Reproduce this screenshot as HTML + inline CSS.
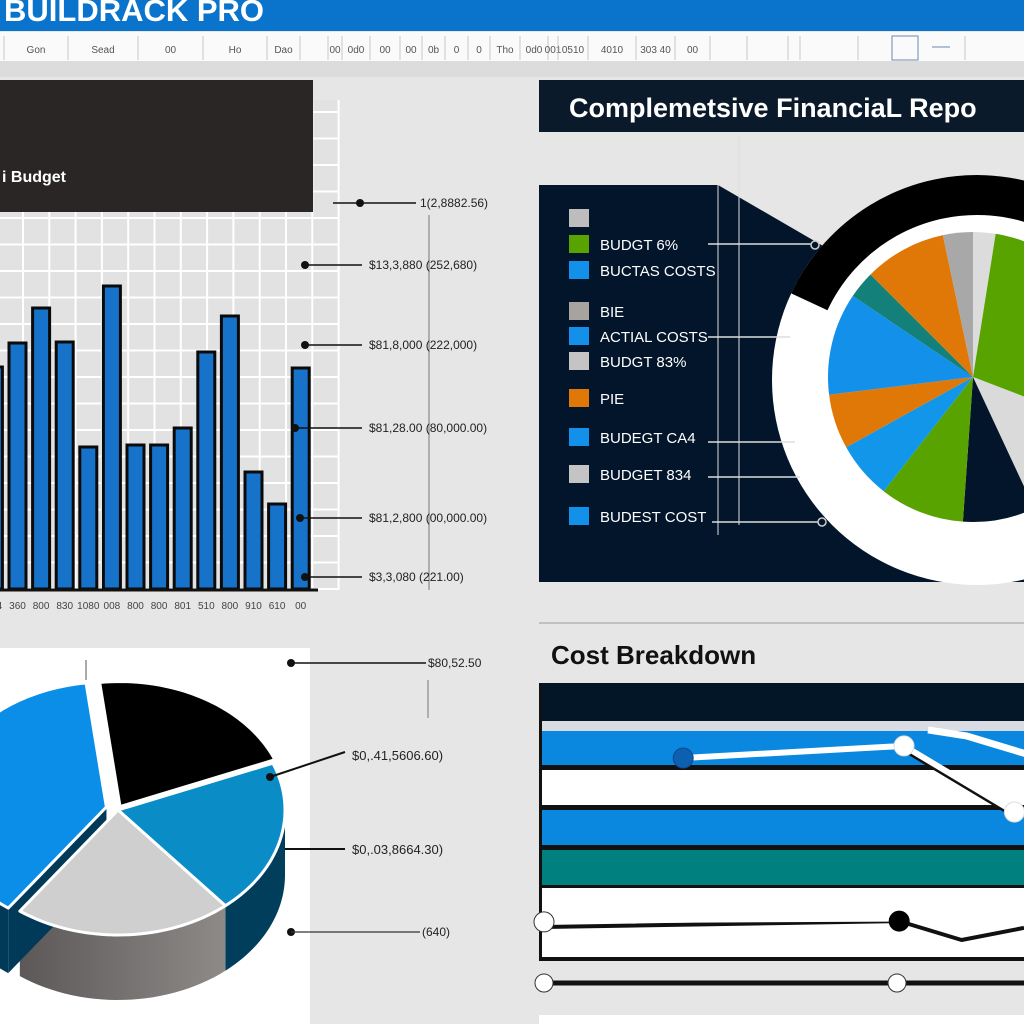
<!DOCTYPE html>
<html><head><meta charset="utf-8"><style>
html,body{margin:0;padding:0;background:#e6e6e6;}
svg{display:block;font-family:"Liberation Sans",sans-serif;}
</style></head><body>
<svg id="root" width="1024" height="1024" viewBox="0 0 1024 1024" xmlns="http://www.w3.org/2000/svg">
<rect x="0" y="0" width="1024" height="1024" fill="#e6e6e6"/>
<g>
<rect x="0" y="0" width="1024" height="31" fill="#0a74cc"/>
<text x="4" y="21" font-size="31" font-weight="bold" fill="#fff">BUILDRACK PRO</text>
</g>
<g id="toolbar">
<rect x="0" y="32" width="1024" height="29" fill="#fafafa"/>
<rect x="0" y="61" width="1024" height="16" fill="#dcdcdc"/>
</g>

<g id="barchart">
<rect x="0" y="100" width="338" height="490" fill="#e2e2e2"/>
<g id="grid"></g>
<rect x="0" y="80" width="313" height="132" fill="#2a2626"/>
<text x="2" y="182" font-size="16" font-weight="bold" fill="#fff">i Budget</text>
<g id="bars"></g>
<line x1="0" y1="590" x2="318" y2="590" stroke="#111" stroke-width="3"/>
<g id="xlabels"></g>
<line x1="429" y1="215" x2="429" y2="590" stroke="#777" stroke-width="1"/>
<g id="callouts"></g>
</g>

<g>
<rect x="539" y="80" width="485" height="52" fill="#0b1a2a"/>
<text x="569" y="117" font-size="27" font-weight="bold" fill="#fff">Complemetsive FinanciaL  Repo</text>
<polygon points="539,185 718,185 830,250 1024,250 1024,582 539,582" fill="#03152a"/>
<line x1="739" y1="135" x2="739" y2="525" stroke="#ddd" stroke-width="1"/>
<line x1="718" y1="185" x2="718" y2="535" stroke="#ddd" stroke-width="1"/>
<circle cx="977" cy="380" r="205" fill="#fff"/>
<path id="blackring" fill="#000"/>
<g id="pieslices"></g>
<g id="legend"></g>
</g>

<g>
<rect x="0" y="648" width="310" height="376" fill="#fff"/>
<line x1="86" y1="660" x2="86" y2="680" stroke="#555" stroke-width="1"/>
<defs><linearGradient id="gside" x1="0" x2="1" y1="0" y2="0"><stop offset="0" stop-color="#5c5858"/><stop offset="1" stop-color="#8e8a88"/></linearGradient></defs>
<g id="pie3d"></g>
<g>
<circle cx="291" cy="663" r="4" fill="#111"/><line x1="291" y1="663" x2="426" y2="663" stroke="#111" stroke-width="1.5"/>
<text x="428" y="667" font-size="12" fill="#222">$80,52.50</text>
<line x1="428" y1="680" x2="428" y2="718" stroke="#777" stroke-width="1"/>
<circle cx="270" cy="777" r="4" fill="#111"/><line x1="270" y1="777" x2="345" y2="752" stroke="#111" stroke-width="2"/>
<text x="352" y="760" font-size="13" fill="#222">$0,.41,5606.60)</text>
<line x1="285" y1="849" x2="345" y2="849" stroke="#111" stroke-width="2"/>
<text x="352" y="854" font-size="13" fill="#222">$0,.03,8664.30)</text>
<circle cx="291" cy="932" r="4" fill="#111"/><line x1="291" y1="932" x2="420" y2="932" stroke="#333" stroke-width="1.2"/>
<text x="422" y="936" font-size="12" fill="#222">(640)</text>
</g>
</g>

<g>
<line x1="539" y1="623" x2="1024" y2="623" stroke="#999" stroke-width="1"/>
<text x="551" y="664" font-size="26" font-weight="bold" fill="#111">Cost Breakdown</text>
<rect x="539" y="683" width="485" height="278" fill="#fff"/>
<rect x="539" y="683" width="485" height="38" fill="#031628"/>
<rect x="542" y="721" width="482" height="10" fill="#d9dde3"/>
<rect x="542" y="731" width="482" height="35" fill="#0a88e0"/>
<rect x="542" y="765" width="482" height="5" fill="#111"/>
<rect x="542" y="805" width="482" height="5" fill="#111"/>
<rect x="542" y="810" width="482" height="35" fill="#0a88e0"/>
<rect x="542" y="845" width="482" height="5" fill="#111"/>
<rect x="542" y="850" width="482" height="35" fill="#00807e"/>
<rect x="542" y="885" width="482" height="3" fill="#111"/>
<rect x="539" y="957" width="485" height="4" fill="#111"/>
<rect x="539" y="683" width="3" height="278" fill="#111"/>
<g id="lines"></g>
<line x1="544" y1="983" x2="1024" y2="983" stroke="#111" stroke-width="5"/>
<circle cx="544" cy="983" r="9" fill="#fff" stroke="#333" stroke-width="1"/>
<circle cx="897" cy="983" r="9" fill="#fff" stroke="#333" stroke-width="1"/>
<rect x="539" y="1015" width="485" height="9" fill="#fff"/>
</g>
</svg>
<script>
const NS="http://www.w3.org/2000/svg";
function mk(tag,attrs,parent){const e=document.createElementNS(NS,tag);for(const k in attrs)e.setAttribute(k,attrs[k]);parent.appendChild(e);return e;}

const toolbarLabels=["Gon","Sead","00","Ho","Dao","","00","0d0","00","00","0b","0","0","Tho","0d0","001","0510","4010","303 40","00","",""];
const toolbarDividers=[4,68,138,203,267,300,328,342,370,400,422,445,468,490,520,548,558,588,636,675,710,747,788,800,858,892,918,965];
{
 const g=document.getElementById('toolbar');
 toolbarDividers.forEach((x,i)=>{
  const l=mk('line',{x1:x,y1:36,x2:x,y2:60,stroke:'#c8c8c8','stroke-width':1},g);
  
  
  if(i<toolbarDividers.length-1&&toolbarLabels[i]){
   const t=mk('text',{x:(x+toolbarDividers[i+1])/2,y:53,'font-size':10,fill:'#555','text-anchor':'middle'},g);
   t.textContent=toolbarLabels[i];
   
   
  }
 });
 const m=mk('rect',{x:892,y:36,width:26,height:24,fill:'none',stroke:'#6a8ab0'},g);
 
 
 mk('line',{x1:932,y1:47,x2:950,y2:47,stroke:'#6a8ab0'},g);
}

const barCategories=["504","360","800","830","1080","008","800","800","801","510","800","910","610","00"];
const barValues=[222,246,281,247,142,303,144,144,161,237,273,117,85,221];
const calloutLabels=["1(2,8882.56)","$13,3,880 (252,680)","$81,8,000 (222,000)","$81,28.00 (80,000.00)","$81,2,800 (00,000.00)","$3,3,080 (221.00)"];
const calloutValues=[386,324,244,161,71,12];
const yScale=v=>589-v;
const xScale=i=>-14.6+i*23.6;
{
 const g=document.getElementById('grid');
 for(let x=23;x<340;x+=26.3){const l=mk('line',{x1:x,y1:100,x2:x,y2:590,stroke:'#fff','stroke-width':2},g);}
 for(let y=112;y<590;y+=26.5){const l=mk('line',{x1:0,y1:y,x2:338,y2:y,stroke:'#fff','stroke-width':2},g);}
 const bg=document.getElementById('bars');
 barValues.forEach((v,i)=>{
  const r=mk('rect',{x:xScale(i),y:yScale(v),width:17,height:v,fill:'#1673c9',stroke:'#0a0a0a','stroke-width':3},bg);
  
  
 });
 const xl=document.getElementById('xlabels');
 barCategories.forEach((c,i)=>{
  const t=mk('text',{x:xScale(i)+8.5,y:609,'font-size':10,fill:'#444','text-anchor':'middle'},xl);
  t.textContent=c;
  
  
 });
 const cg=document.getElementById('callouts');
 const dotX=[333,305,305,295,300,305];
 calloutValues.forEach((v,i)=>{
  const y=yScale(v);
  mk('line',{x1:dotX[i],y1:y,x2:i==0?416:362,y2:y,stroke:'#111','stroke-width':1.5},cg);
  const c=mk('circle',{cx:dotX[i]+(i==0?27:0),cy:y,r:4,fill:'#111'},cg);
  
  
  const t=mk('text',{x:i==0?420:369,y:y+4,'font-size':12,fill:'#222'},cg);
  t.textContent=calloutLabels[i];
  
  
 });
}

const pieLabels=["light","green","light-2","navy","green-2","blue","orange","blue-2","teal","orange-2","gray"];
const pieValues=[9,102,44,29,34,23,22,41,11,33,12];
const pieColors=["#dcdcdc","#58a300","#dadada","#03152a","#58a300","#1296ea","#e07808","#1290ea","#13807a","#e07808","#a8a8a8"];
function arcPath(cx,cy,r,a0,a1){const p=a=>[cx+r*Math.cos(a*Math.PI/180),cy+r*Math.sin(a*Math.PI/180)];const s=p(a0),e=p(a1);return `M${cx},${cy}L${s[0]},${s[1]}A${r},${r} 0 ${a1-a0>180?1:0} 1 ${e[0]},${e[1]}Z`;}
{
 const g=document.getElementById('pieslices');
 const total=pieValues.reduce((a,b)=>a+b,0);
 let a=-90;
 pieValues.forEach((v,i)=>{
  const a1=a+v/total*360;
  const p=mk('path',{d:arcPath(973,377,145,a,a1),fill:pieColors[i]},g);
  
  
  a=a1;
 });
 const ro=205,ri=165,cx=977,cy=380,b0=205,b1=340;
 const P=(r,a)=>[cx+r*Math.cos(a*Math.PI/180),cy+r*Math.sin(a*Math.PI/180)];
 const s1=P(ro,b0),e1=P(ro,b1),s2=P(ri,b1),e2=P(ri,b0);
 document.getElementById('blackring').setAttribute('d',`M${s1}A${ro},${ro} 0 0 1 ${e1}L${s2}A${ri},${ri} 0 0 0 ${e2}Z`);
}
const legendLabels=["","BUDGT 6%","BUCTAS COSTS","BIE","ACTIAL COSTS","BUDGT 83%","PIE","BUDEGT CA4","BUDGET 834","BUDEST COST"];
const legendColors=["#bdbdbd","#58a300","#1290ea","#a9a39f","#1290ea","#c4c4c4","#e07808","#1290ea","#c4c4c4","#1290ea"];
const legendY=[218,244,270,311,336,361,398,437,474,516];
{
 const g=document.getElementById('legend');
 legendLabels.forEach((l,i)=>{
  const r=mk('rect',{x:569,y:legendY[i]-9,width:20,height:18,fill:legendColors[i]},g);
  
  
  const t=mk('text',{x:600,y:legendY[i]+6,'font-size':15,fill:'#fff'},g);
  t.textContent=l;
  
  
 });
 [[244,708,812],[337,708,790],[442,708,795],[477,708,800],[522,712,820]].forEach(s=>{
  const l=mk('line',{x1:s[1],y1:s[0],x2:s[2],y2:s[0],stroke:'#ddd','stroke-width':1.5},g);
  
  
 });
 mk('circle',{cx:815,cy:245,r:4,fill:'#03152a',stroke:'#ccc','stroke-width':1.5},g);
 mk('circle',{cx:822,cy:522,r:4,fill:'#03152a',stroke:'#ccc','stroke-width':1.5},g);
}

const pie3dLabels=["blue","black","cyan","gray"];
const pie3dValues=[137,75,72,76];
const pie3dTop=["#0a8ee8","#000","#0a8cc6","#cfcfcf"];
const pie3dSide=["#003a58","#111","#003e5c","url(#gside)"];
const pie3dExplode=[12,4,0,0];
{
 const g=document.getElementById('pie3d');
 const cx=118,cy=810,rx=167,ry=125,dep=65;
 const total=pie3dValues.reduce((a,b)=>a+b,0);
 let a=126;
 const sl=[];
 pie3dValues.forEach((v,i)=>{const a1=a+v/total*360;sl.push([a,a1]);a=a1;});
 const pt=(a,ox,oy,d)=>[cx+ox+rx*Math.cos(a*Math.PI/180),cy+oy+d+ry*Math.sin(a*Math.PI/180)];
 const off=i=>{const m=(sl[i][0]+sl[i][1])/2*Math.PI/180;return[pie3dExplode[i]*Math.cos(m),pie3dExplode[i]*Math.sin(m)];};
 sl.forEach((s,i)=>{
  const [ox,oy]=off(i);
  let a0=s[0],a1=s[1];
  for(const base of [0,360]){
   const lo=Math.max(a0,base),hi=Math.min(a1,base+180);
   if(hi>lo){
    let d='';const N=30;
    for(let k=0;k<=N;k++){const p=pt(lo+(hi-lo)*k/N,ox,oy,0);d+=(k?'L':'M')+p[0]+','+p[1];}
    for(let k=N;k>=0;k--){const p=pt(lo+(hi-lo)*k/N,ox,oy,dep);d+='L'+p[0]+','+p[1];}
    const e=mk('path',{d:d+'Z',fill:pie3dSide[i]},g);
    
    
   }
  }
 });
 [sl[0][1],sl[0][0]].forEach(ang=>{
  const [ox,oy]=off(0);const p=pt(ang,ox,oy,0);
  const e=mk('path',{d:`M${cx+ox},${cy+oy}L${p[0]},${p[1]}L${p[0]},${p[1]+dep}L${cx+ox},${cy+oy+dep}Z`,fill:'#003a58'},g);
  
  
 });
 sl.forEach((s,i)=>{
  const [ox,oy]=off(i);
  let d=`M${cx+ox},${cy+oy}`;const N=40;
  for(let k=0;k<=N;k++){const p=pt(s[0]+(s[1]-s[0])*k/N,ox,oy,0);d+='L'+p[0]+','+p[1];}
  const e=mk('path',{d:d+'Z',fill:pie3dTop[i],stroke:'#fff','stroke-width':3,'stroke-linejoin':'round'},g);
  
  
 });
}

const seriesAX=[2.9,7.5,9.8], seriesAY=[74.8,79.3,54.8];
const seriesBX=[8.0,8.8,10.2], seriesBY=[85.2,83,75.5];
const seriesCX=[0,7.4,10], seriesCY=[14.1,14.8,16.3];
const seriesDX=[0,7.4,8.7,10], seriesDY=[12.2,14.4,7.4,11.9];
const lx=v=>544+v*48, ly=v=>960-v*2.7;
{
 const g=document.getElementById('lines');
 const poly=(xs,ys,col,w,name)=>{const p=mk('polyline',{points:xs.map((x,i)=>lx(x)+','+ly(ys[i])).join(' '),fill:'none',stroke:col,'stroke-width':w,'stroke-linejoin':'round'},g);};
 poly(seriesAX.slice(1),seriesAY.slice(1).map(v=>v-1.5),'#111',4,'series-a-shadow');
 poly(seriesAX,seriesAY,'#fff',6,'series-a-line');
 poly(seriesBX,seriesBY,'#fff',7,'series-b-line');
 poly(seriesDX,seriesDY,'#111',4,'series-d-line');
 poly(seriesCX,seriesCY,'#fff',3,'series-c-line');
 const dot=(x,y,f,s,r,name)=>{const c=mk('circle',{cx:lx(x),cy:ly(y),r:r,fill:f,stroke:s,'stroke-width':1},g);};
 dot(seriesAX[0],seriesAY[0],'#0d5fb0','#0a4a90',10,'series-a-point');
 dot(seriesAX[1],seriesAY[1],'#fff','#ddd',10,'series-a-point');
 dot(seriesAX[2],seriesAY[2],'#fff','#ddd',10,'series-a-point');
 dot(seriesCX[0],seriesCY[0],'#fff','#333',10,'series-c-point');
 dot(seriesDX[1],seriesDY[1],'#000','#000',10,'series-d-point');
}
</script>
</body></html>
